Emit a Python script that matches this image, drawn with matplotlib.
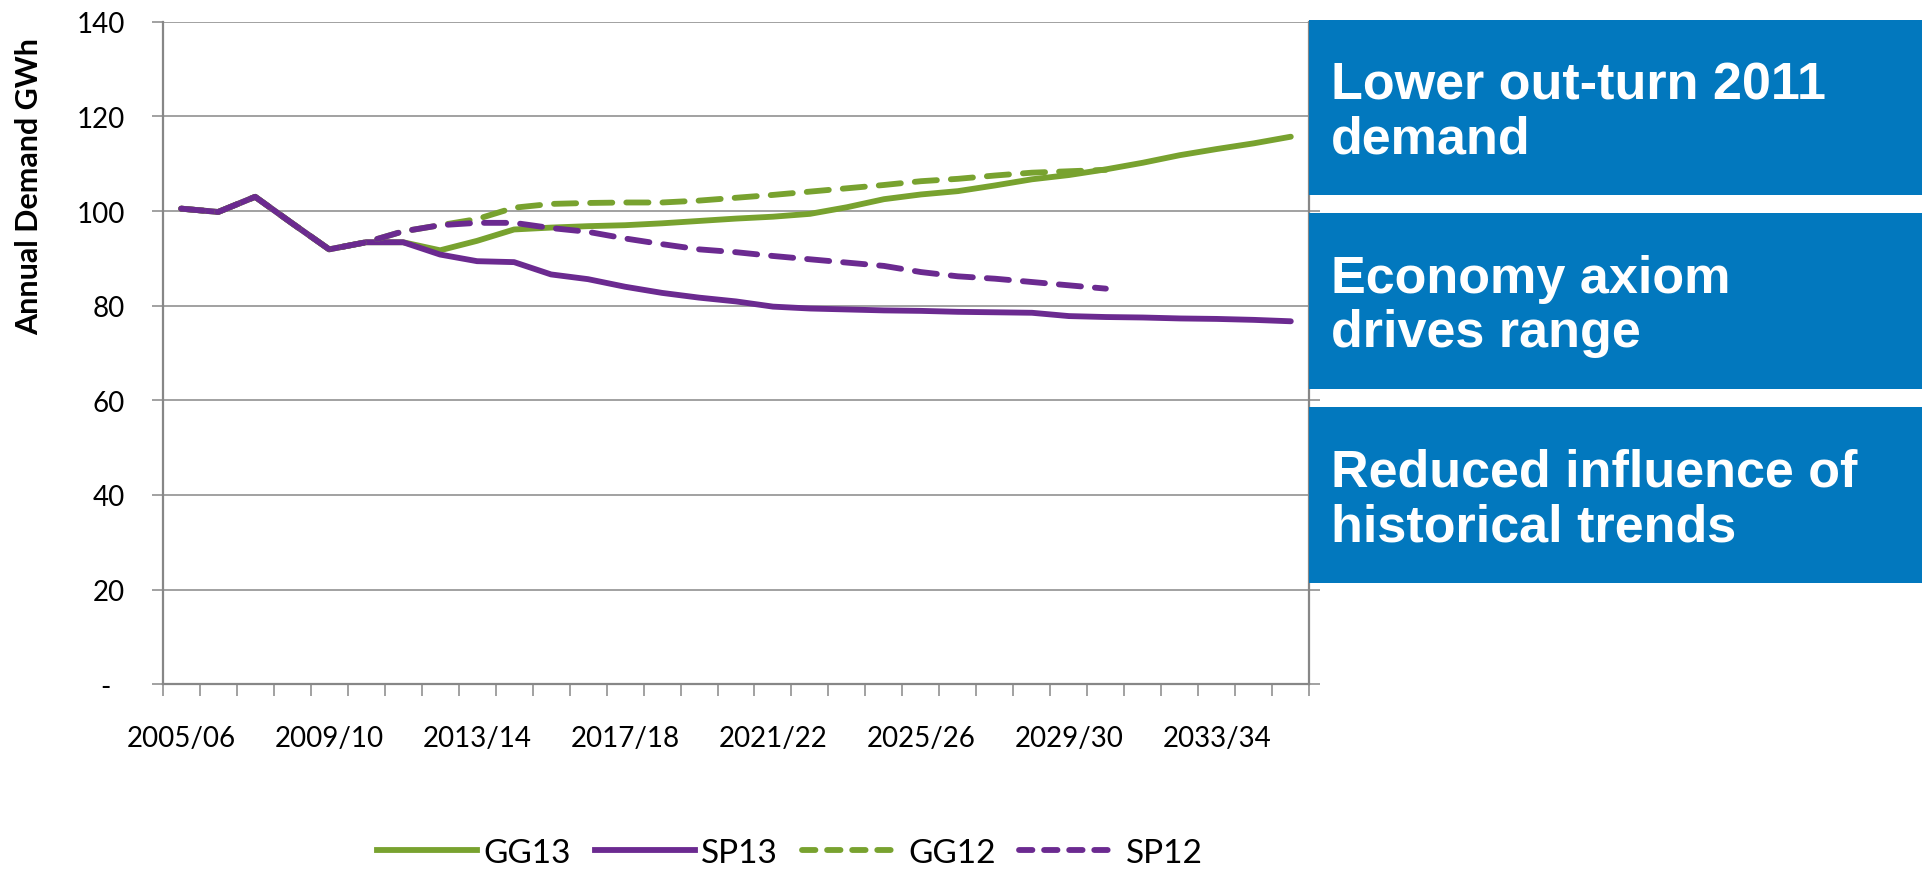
import numpy as np
import matplotlib
matplotlib.use("Agg")
import matplotlib.pyplot as plt
from matplotlib.patches import Rectangle
from matplotlib.lines import Line2D

# ---------------- data ----------------
years = ["2005/06", "2006/07", "2007/08", "2008/09", "2009/10", "2010/11", "2011/12",
         "2012/13", "2013/14", "2014/15", "2015/16", "2016/17", "2017/18", "2018/19",
         "2019/20", "2020/21", "2021/22", "2022/23", "2023/24", "2024/25", "2025/26",
         "2026/27", "2027/28", "2028/29", "2029/30", "2030/31", "2031/32", "2032/33",
         "2033/34", "2034/35", "2035/36"]

gg13 = [100.5, 99.8, 103.0, 97.4, 91.9, 93.4, 93.4, 91.7, 93.7, 96.1, 96.5, 96.8,
        97.0, 97.4, 97.9, 98.4, 98.8, 99.4, 100.8, 102.5, 103.5, 104.2, 105.4, 106.7,
        107.6, 108.8, 110.2, 111.8, 113.1, 114.3, 115.7]
sp13 = [100.5, 99.8, 103.0, 97.4, 91.9, 93.4, 93.4, 90.8, 89.4, 89.2, 86.6, 85.6,
        84.0, 82.7, 81.7, 80.9, 79.8, 79.4, 79.2, 79.0, 78.9, 78.7, 78.6, 78.5,
        77.8, 77.6, 77.5, 77.3, 77.2, 77.0, 76.7]
gg12 = [100.5, 99.8, 103.0, 97.4, 91.9, 93.4, 95.7, 97.0, 98.3, 100.7, 101.5, 101.7,
        101.8, 101.8, 102.2, 102.8, 103.4, 104.1, 104.8, 105.5, 106.3, 106.8, 107.5,
        108.1, 108.4, 108.7, None, None, None, None, None]
sp12 = [100.5, 99.8, 103.0, 97.4, 91.9, 93.4, 95.7, 97.0, 97.5, 97.5, 96.4, 95.6,
        94.2, 93.0, 91.9, 91.3, 90.5, 89.8, 89.1, 88.4, 87.1, 86.2, 85.7, 85.0,
        84.3, 83.6, None, None, None, None, None]

series_names = ["GG13", "SP13", "GG12", "SP12"]
y_ticks = [0, 20, 40, 60, 80, 100, 120, 140]
y_tick_labels = ["-  ", "20", "40", "60", "80", "100", "120", "140"]
label_every = 4

box_texts = [("Lower out-turn 2011", "demand"),
             ("Economy axiom", "drives range"),
             ("Reduced influence of", "historical trends")]

# ---------------- style ----------------
W, H = 1925, 870
GREEN = "#78A22F"
PURPLE = "#6B2A90"
BLUE = "#0278BE"
GRID = "#878787"
TICKFONT = "Lato"

def to_arr(v):
    return np.array([np.nan if a is None else a for a in v], dtype=float)

fig = plt.figure(figsize=(W / 100, H / 100), dpi=100)
x0, x1, ytop, ybot = 162.7, 1309.3, 22.7, 685.3
ax = fig.add_axes([x0 / W, 1 - ybot / H, (x1 - x0) / W, (ybot - ytop) / H])

x = np.arange(len(years))
lw = 4.2
dash = (0, (3.8, 2.4))
ax.plot(x, to_arr(gg13), color=GREEN, lw=lw, solid_capstyle="round", solid_joinstyle="round")
ax.plot(x, to_arr(sp13), color=PURPLE, lw=lw, solid_capstyle="round", solid_joinstyle="round")
ax.plot(x, to_arr(gg12), color=GREEN, lw=lw, ls=dash, dash_capstyle="round", dash_joinstyle="round")
ax.plot(x, to_arr(sp12), color=PURPLE, lw=lw, ls=dash, dash_capstyle="round", dash_joinstyle="round")

ax.set_xlim(-0.5, len(years) - 0.5)
ax.set_ylim(0, 140)

ax.set_yticks(y_ticks)
ax.set_yticklabels(y_tick_labels, fontfamily=TICKFONT, fontsize=20, color="black")
ax.yaxis.grid(True, color=GRID, lw=1.1)
ax.set_axisbelow(True)
ax.tick_params(axis="y", which="major", left=True, right=True, direction="out",
               length=8, width=1.1, color=GRID, pad=19, labelright=False)

ax.set_xticks(x[::label_every])
ax.set_xticklabels(years[::label_every], fontfamily=TICKFONT, fontsize=20, color="black")
ax.set_xticks(np.arange(-0.5, len(years), 1.0), minor=True)
ax.tick_params(axis="x", which="major", length=0, pad=29)
ax.tick_params(axis="x", which="minor", length=8.6, width=1.1, color=GRID, direction="out")

for s in ["left", "bottom", "right"]:
    ax.spines[s].set_color(GRID)
    ax.spines[s].set_linewidth(1.6)
ax.spines["top"].set_visible(False)

fig.text(29 / W, 1 - 187 / H, "Annual Demand GWh", rotation=90, ha="center", va="center",
         fontsize=22, fontweight="bold", fontfamily=TICKFONT)

# legend
leg_dash = (0, (2.3, 2.0))
handles = [Line2D([], [], color=GREEN, lw=lw),
           Line2D([], [], color=PURPLE, lw=lw),
           Line2D([], [], color=GREEN, lw=lw, ls=leg_dash, dash_capstyle="round"),
           Line2D([], [], color=PURPLE, lw=lw, ls=leg_dash, dash_capstyle="round")]
fig.legend(handles, series_names, loc="center", bbox_to_anchor=(790 / W, 1 - 854 / H),
           ncol=4, frameon=False, handlelength=3.0, handletextpad=0.2, columnspacing=0.7,
           prop={"family": TICKFONT, "size": 24})

# blue boxes
boxes_y = [(21, 196), (214, 390), (408, 584)]
bx0, bx1 = 1309, 1922
for (yt, yb), (l1, l2) in zip(boxes_y, box_texts):
    fig.patches.append(Rectangle((bx0 / W, 1 - yb / H), (bx1 - bx0) / W, (yb - yt) / H,
                                 transform=fig.transFigure, facecolor=BLUE, edgecolor="none",
                                 zorder=2))
    fig.text(1331 / W, 1 - (yt + 79) / H, l1, color="white", fontsize=37.5, fontweight="bold",
             fontfamily="Liberation Sans", va="baseline", ha="left", zorder=3)
    fig.text(1331 / W, 1 - (yt + 133) / H, l2, color="white", fontsize=37.5, fontweight="bold",
             fontfamily="Liberation Sans", va="baseline", ha="left", zorder=3)

fig.savefig("out.png", dpi=100)
